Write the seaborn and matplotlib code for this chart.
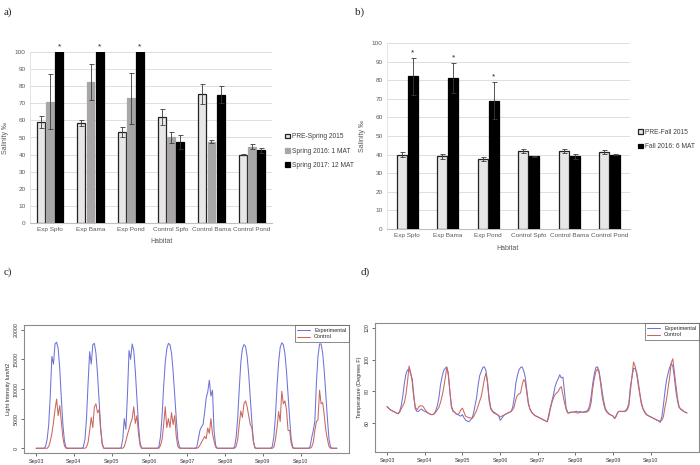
import numpy as np
import pandas as pd
import matplotlib
matplotlib.use("Agg")
import matplotlib.pyplot as plt
from matplotlib.container import BarContainer
import seaborn as sns

# ---------------- data: panels a) and b) ----------------
habitats = ["Exp Spfo", "Exp Bama", "Exp Pond", "Control Spfo", "Control Bama", "Control Pond"]

spring_labels = ["PRE-Spring 2015", "Spring 2016: 1 MAT", "Spring 2017: 12 MAT"]
spring_pre = [59, 58.5, 53, 62, 75.5, 40]
spring_pre_err = [3.7, 2, 3, 4.5, 6, 0.3]
spring_1mat = [71, 82.5, 73, 50, 47.5, 44.5]
spring_1mat_err = [16, 10.5, 15, 3, 1, 1.5]
spring_12mat = [100, 100, 100, 47.5, 75, 42.5]
spring_12mat_err = [0, 0, 0, 4, 5, 1.5]
spring_sig = [True, True, True, False, False, False]

fall_labels = ["PRE-Fall 2015", "Fall 2016: 6 MAT"]
fall_pre = [40, 39, 37.5, 42, 42, 41.5]
fall_pre_err = [1.5, 1.5, 1, 1, 1, 1.2]
fall_6mat = [82, 81, 69, 39, 39, 40]
fall_6mat_err = [10, 8, 10, 0.5, 1.2, 0.3]
fall_sig = [True, True, True, False, False, False]

# ---------------- data: panels c) and d) (hourly, Sep03 00:00 .. Sep10 23:00) ----------------
day_labels = ["Sep03", "Sep04", "Sep05", "Sep06", "Sep07", "Sep08", "Sep09", "Sep10"]
series_labels = ["Experimental", "Control"]

light_exp = [
    0, 0, 0, 0, 0, 0, 300, 1500, 4000, 9000, 15500, 14200, 17600, 17900, 16800, 13500, 8500, 4000, 1200, 100, 0, 0, 0, 0,
    0, 0, 0, 0, 0, 0, 200, 1500, 5000, 11000, 16300, 14200, 17500, 17700, 16000, 12500, 8000, 3500, 800, 0, 0, 0, 0, 0,
    0, 0, 0, 0, 0, 0, 100, 1500, 5000, 3200, 9000, 16500, 15000, 17600, 16500, 13000, 8500, 4000, 1000, 0, 0, 0, 0, 0,
    0, 0, 0, 0, 0, 0, 300, 2000, 5500, 10500, 14500, 16800, 17700, 17500, 16000, 13000, 9000, 5000, 1500, 200, 0, 0, 0, 0,
    0, 0, 0, 0, 0, 0, 200, 1500, 3000, 3600, 4000, 6000, 8500, 9500, 11500, 8800, 9800, 3000, 500, 0, 0, 0, 0, 0,
    0, 0, 0, 0, 0, 0, 200, 1800, 5000, 10000, 14500, 16800, 17500, 17200, 15500, 12500, 8500, 4500, 1200, 100, 0, 0, 0, 0,
    0, 0, 0, 0, 0, 0, 300, 2000, 5500, 10500, 14500, 17000, 17800, 17500, 16000, 13000, 9000, 5000, 1500, 200, 0, 0, 0, 0,
    0, 0, 0, 0, 0, 0, 300, 1800, 3000, 4500, 11000, 15500, 17600, 17600, 16000, 13000, 9000, 5000, 1500, 200, 0, 0, 0, 0,
]
light_ctl = [
    0, 0, 0, 0, 0, 0, 0, 0, 300, 1200, 2500, 4300, 6500, 8300, 5500, 7200, 4500, 1800, 400, 0, 0, 0, 0, 0,
    0, 0, 0, 0, 0, 0, 0, 0, 200, 1000, 3000, 5200, 3500, 7000, 7500, 6000, 6500, 3000, 600, 0, 0, 0, 0, 0,
    0, 0, 0, 0, 0, 0, 0, 0, 300, 1200, 2300, 3200, 4200, 5000, 7000, 4200, 5500, 2500, 500, 0, 0, 0, 0, 0,
    0, 0, 0, 0, 0, 0, 0, 500, 1500, 4000, 7000, 3500, 5000, 3500, 6000, 4000, 5500, 2000, 300, 0, 0, 0, 0, 0,
    0, 0, 0, 0, 0, 0, 0, 100, 500, 1000, 1500, 2000, 1600, 3400, 2500, 5000, 2500, 1200, 200, 0, 0, 0, 0, 0,
    0, 0, 0, 0, 0, 0, 0, 300, 1500, 4000, 6300, 5200, 7500, 8000, 7000, 5500, 4000, 3500, 1000, 0, 0, 0, 0, 0,
    0, 0, 0, 0, 0, 0, 0, 200, 1500, 3500, 6200, 4500, 9600, 7500, 8000, 6500, 3000, 3000, 800, 0, 0, 0, 0, 0,
    0, 0, 0, 0, 0, 0, 0, 200, 1000, 3000, 4500, 4800, 9800, 7500, 7700, 5500, 3000, 1500, 300, 0, 0, 0, 0, 0,
]
temp_exp = [
    70.5, 69.5, 68.5, 68, 67.5, 67, 66.5, 66, 67.5, 71, 77, 85, 91, 93.5, 94, 91, 88, 78, 69, 67.5, 67.5, 68.5, 69, 68,
    67.5, 67, 66.5, 66, 65.5, 65.5, 66, 68, 71, 76, 84, 89, 93, 94.5, 95.5, 90, 80, 70, 67.5, 67, 66, 65.5, 65, 64.5,
    65.5, 63.5, 62, 61.5, 61, 62, 63, 66, 71, 76, 84, 90, 92.5, 95, 95.5, 93, 86, 76, 70, 68, 67, 66.5, 65.5, 65,
    62, 63, 64.5, 65.5, 66, 66.5, 67, 67.5, 70, 76, 85, 90, 93.5, 95, 95.5, 93, 89, 81, 73, 69, 67, 66, 65, 64.5,
    64, 63.5, 63, 62.5, 62, 61.5, 61, 65.5, 70, 74, 78, 83, 86, 88, 90.5, 88.5, 89, 80, 70, 67, 66.5, 67, 67, 67,
    67.5, 67.5, 67, 67.5, 67, 67, 67.5, 67.5, 68.5, 71, 77, 85, 91, 95, 95.5, 93, 87, 80, 74, 69.5, 67.5, 66.5, 65.5, 65,
    64.5, 63, 64.5, 67, 67.5, 67.5, 67.5, 67.5, 68, 69.5, 72.5, 83, 89, 94.5, 94.5, 92, 86, 79, 73, 69.5, 67.5, 66, 65, 64.5,
    64, 63.5, 63, 62.5, 62, 61.5, 60.5, 64, 71, 80, 87, 91.5, 95, 97.5, 96, 89, 80, 74, 70, 69, 68.5, 67.5, 67, 66.5,
]
temp_ctl = [
    70.5, 69.5, 68.5, 68, 67.5, 67, 66.5, 66, 67, 69, 71, 73, 78, 86, 96, 92, 86, 76, 70, 68.5, 70, 71, 71, 70.5,
    69, 67.5, 66.5, 66, 65.5, 65.5, 66, 67, 68.5, 70, 73, 77, 82, 88, 95, 92, 80, 71, 68, 67, 66, 65.5, 66.5, 68.5,
    69.5, 67, 64.5, 64, 63.5, 63.5, 63, 64, 66, 68, 71, 74, 77, 82, 88, 91.5, 85, 74, 69, 67.5, 66.5, 66, 65.5, 65,
    64, 64.5, 65, 65.5, 66, 66.5, 67, 67.5, 68.5, 70.5, 75, 77.5, 78.5, 79, 84, 87.5, 86, 79, 72, 69, 67, 66, 65, 64.5,
    64, 63.5, 63, 62.5, 62, 61.5, 61, 64, 69, 73, 76, 78, 79, 80, 82, 83, 78, 73, 69, 66.5, 66.5, 67, 67, 67,
    67, 66.5, 66.5, 67, 67, 67, 67, 67, 67.5, 69, 73, 82, 88, 92.5, 94, 92, 85, 77, 72, 68.5, 67, 66, 65.5, 65,
    64.5, 63, 65, 67, 67.5, 67.5, 67.5, 67.5, 67.5, 68.5, 71, 80, 89, 98.5, 96, 91, 84, 78, 72, 69, 67, 65.5, 65, 64.5,
    64, 63.5, 63, 62.5, 62, 61.5, 61.5, 62, 64, 70, 75, 82, 89, 98, 100.5, 92, 84, 76, 70.5, 69, 68, 67.5, 67, 66.5,
]

# ---------------- styling ----------------
sns.set_style("white")
plt.rcParams["font.family"] = ["Liberation Sans", "DejaVu Sans"]

fig = plt.figure(figsize=(7, 4.65), dpi=100)
W, H = 700.0, 465.0


def axes_px(left, top, right, bottom):
    return fig.add_axes([left / W, 1 - bottom / H, (right - left) / W, (bottom - top) / H])


def bar_panel(ax, values, errs, labels, colors, edges, width, gap, sig):
    n = len(habitats)
    df = pd.DataFrame({
        "Habitat": habitats * len(labels),
        "Series": np.repeat(labels, n),
        "Salinity": np.concatenate(values),
    })
    sns.barplot(data=df, x="Habitat", y="Salinity", hue="Series", hue_order=labels,
                order=habitats, palette=colors, width=width, gap=gap, errorbar=None,
                legend=False, ax=ax, zorder=3)
    bar_conts = [c for c in ax.containers if isinstance(c, BarContainer)]
    for cont, err, ec in zip(bar_conts, errs, edges):
        for bar, e in zip(cont, err):
            bar.set_edgecolor(ec)
            bar.set_linewidth(0.9)
            cx = bar.get_x() + bar.get_width() / 2
            h = bar.get_height()
            if e > 0:
                ax.errorbar(cx, h, yerr=e, color="#3a3a3a", capsize=1.8,
                            elinewidth=0.6, capthick=0.6, zorder=4)
    last = bar_conts[-1]
    for bar, e, s in zip(last, errs[-1], sig):
        if s:
            cx = bar.get_x() + bar.get_width() / 2
            ax.text(cx, bar.get_height() + e + 1.0, "*", ha="center", va="bottom",
                    fontsize=6, color="#222222", clip_on=False)
    ax.set_ylim(0, 100)
    ax.set_yticks(range(0, 101, 10))
    ax.yaxis.grid(True, color="#d9d9d9", linewidth=0.6)
    ax.set_axisbelow(True)
    for side in ["top", "right"]:
        ax.spines[side].set_visible(False)
    ax.spines["left"].set_color("#e0e0e0")
    ax.spines["left"].set_linewidth(0.6)
    ax.spines["bottom"].set_color("#bfbfbf")
    ax.spines["bottom"].set_linewidth(0.8)
    ax.tick_params(axis="both", length=0, labelsize=4.6, colors="#595959", pad=3)
    ax.set_xlabel("")
    ax.set_ylabel("Salinity ‰", fontsize=5, color="#595959", labelpad=4)
    ax.set_xlim(-0.5, len(habitats) - 0.5)
    return bar_conts


# ---- a) ----
axa = axes_px(30, 52, 272, 223)
conts_a = bar_panel(axa, [spring_pre, spring_1mat, spring_12mat],
                    [spring_pre_err, spring_1mat_err, spring_12mat_err],
                    spring_labels, ["#e7e7e7", "#a9a6a6", "#000000"],
                    ["#222222", "#a9a6a6", "#000000"], 0.68, 0.14, spring_sig)
axa.legend(handles=[c.patches[0] for c in conts_a], labels=spring_labels,
           loc="center left", bbox_to_anchor=(1.03, 0.42), frameon=False,
           fontsize=4.8, handlelength=0.7, handleheight=0.7, handletextpad=0.3,
           labelspacing=1.1, labelcolor="#404040")
fig.text(162 / W, 1 - 241 / H, "Habitat", ha="center", va="center", fontsize=5, color="#595959")

# ---- b) ----
axb = axes_px(387, 43, 630, 229)
conts_b = bar_panel(axb, [fall_pre, fall_6mat], [fall_pre_err, fall_6mat_err],
                    fall_labels, ["#e7e7e7", "#000000"], ["#222222", "#000000"], 0.54, 0.12, fall_sig)
axb.legend(handles=[c.patches[0] for c in conts_b], labels=fall_labels,
           loc="center left", bbox_to_anchor=(1.01, 0.48), frameon=False,
           fontsize=4.8, handlelength=0.7, handleheight=0.7, handletextpad=0.3,
           labelspacing=1.1, labelcolor="#404040")
fig.text(508 / W, 1 - 248 / H, "Habitat", ha="center", va="center", fontsize=5, color="#595959")


# ---- c) and d) ----
def line_panel(ax, exp, ctl, ylabel, ylim, yticks):
    hours = np.arange(len(exp))
    df = pd.DataFrame({
        "Hour": np.concatenate([hours, hours]),
        "Value": np.concatenate([exp, ctl]),
        "Site": np.repeat(series_labels, len(exp)),
    })
    sns.lineplot(data=df, x="Hour", y="Value", hue="Site", hue_order=series_labels,
                 palette={"Experimental": "#6f73d6", "Control": "#c9675f"},
                 linewidth=0.75, legend=False, ax=ax)
    ax.set_xlim(-7.7, 198.7)
    ax.set_xticks(np.arange(len(day_labels)) * 24)
    ax.set_xticklabels(day_labels)
    ax.set_ylim(*ylim)
    ax.set_yticks(yticks)
    ax.set_yticklabels([str(t) for t in yticks], rotation=90, va="center")
    for s in ax.spines.values():
        s.set_color("#8c8c8c")
        s.set_linewidth(0.8)
    ax.tick_params(axis="both", length=2, width=0.5, labelsize=3.8, colors="#333333", pad=2,
                   direction="out", bottom=True, left=True)
    ax.set_xlabel("")
    ax.set_ylabel(ylabel, fontsize=4, color="#333333", labelpad=2)
    ax.legend(handles=ax.lines[:2], labels=series_labels, loc="upper right",
              borderaxespad=0, fontsize=4, frameon=True, fancybox=False,
              edgecolor="#555555", handlelength=2.2, borderpad=0.5, labelspacing=0.3)
    ax.get_legend().get_frame().set_linewidth(0.6)


axc = axes_px(24, 325, 349, 453)
line_panel(axc, light_exp, light_ctl, "Light Intensity lum/ft2", (-800, 20800),
           [0, 5000, 10000, 15000, 20000])

axd = axes_px(375, 323, 699, 452)
line_panel(axd, temp_exp, temp_ctl, "Temperature (Degrees F)", (42, 123), [60, 80, 100, 120])

# panel letters
for txt, x, y in [("a)", 4, 12), ("b)", 355, 12), ("c)", 4, 272), ("d)", 361, 272)]:
    fig.text(x / W, 1 - y / H, txt, fontsize=8, family="Liberation Serif", va="center", ha="left")

fig.savefig("out.png", dpi=100)
